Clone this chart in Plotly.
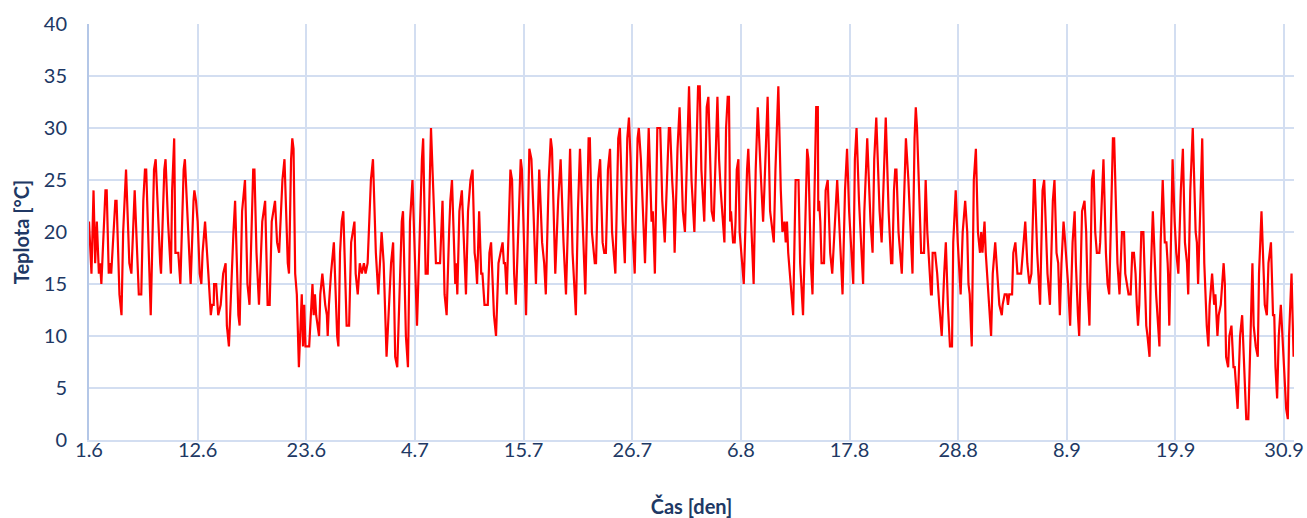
import plotly.graph_objects as go

# time since 1 June 00:00 in hours, temperature in °C
hours = [
0,3,6,11,15,19,24,27,30,40,43,48,51,54,59,64,67,74,79,83,90,98,103,111,121,127,132,136,139,150,158,162,173,175,183,186,192,199,202,207,210,217,222,230,233,243,247,254,256,260,264,269,273,276,282,
290,296,299,303,304,309,314,320,326,332,335,340,351,355,363,366,372,376,379,385,390,399,402,407,413,421,428,434,439,444,448,452,457,462,470,475,483,486,491,494,497,501,505,510,517,520,523,526,535,539,543,546,549,552,559,562,567,
574,578,580,583,588,595,603,606,610,614,618,626,632,637,645,648,653,658,663,668,672,677,685,690,697,703,711,716,723,734,739,744,749,760,763,770,775,780,786,797,809,812,818,823,831,840,843,853,859,864,869,
875,878,882,888,890,892,895,900,906,913,916,921,924,927,932,937,940,943,948,953,956,961,969,973,977,984,989,995,1000,1005,1008,1011,1015,1021,1024,1028,1033,1037,1049,1052,1060,1062,1070,1075,1080,1086,1094,1101,1106,1110,1117,1122,1125,1132,1133,1140,1146,1153,1159,1169,
1175,1183,1188,1193,1201,1206,1214,1217,1222,1229,1232,1237,1242,1248,1252,1256,1261,1266,1271,1279,1286,1290,1297,1302,1308,1312,1316,1321,1326,1333,1336,1341,1346,1351,1360,1367,1370,1375,1381,1388,1393,1399,1409,1412,1417,1420,1423,1430,1435,1443,1448,1458,
1464,1471,1480,1484,1488,1495,1501,1505,1513,1518,1527,1531,1535,1544,1548,1552,1555,1558,1560,1565,1569,1571,1574,1578,1581,1586,1591,1599,1602,1608,1612,1615,1620,1625,1633,1638,1641,1649,1655,1660,1664,1668,1675,1681,1685,1690,1693,1696,1699,1707,1711,1717,1724,1728,1732,1735,1745,
1748,1754,1758,1767,1771,1772,1774,1777,1780,1786,1790,1795,1801,1806,1813,1818,1824,1831,1837,1842,1847,1850,1857,1861,1865,1871,1881,1884,1891,1899,1904,1908,1913,1921,1926,1936,1943,1949,1952,1956,1959,1962,1967,1975,1983,1985,1991,1996,2001,2006,2009,2012,2019,2022,2029,2033,
2037,2042,2046,2048,2050,2056,2061,2066,2072,2078,2082,2087,2092,2097,2100,2106,2111,2118,2123,2129,2134,2137,2140,2145,2150,2155,2160,2165,2168,2171,2176,2179,2186,2192,2196,2202,2207,2212,2218,2220,2225,2230,2233,2236,2243,2246,2251,2256,2265,2270,2275,2280,2285,2290,2296,2298,2304,2311,2317,2321,2329,2335,
2342,2346,2351,2355,2359,2363,2368,2372,2376,2379,2384,2390,2395,2398,2403,2406,2413,2419,2423,2426,2431,2437,2441,2445,2449,2455,2457,2465,2471,2475,2479,2488,2491,2496,2499,2504,2510,2515,2518,2522,2526,2531,2535,2539,2543,2546,2549,2552,2557,2562,2565,2569,2572,2577,2580,2585,2593,2598,2601,2604,2609,2614,2618,2621,2622,2625,2629,
2633,2638,2642,2647,2653,2658,2663,2668,2671,2676,2682,2689,2692,2695,2702,2705,2710,2713,2715,2716,2720,2723,2729,2734,2737,2742,2745,2750,2757,2760,2763,2768,2771,2776,2781,2784,2791,2797,2802,2807,2809,2812,2817,2823,2827,2830,2835,2840,2843,2849,2854,2857,2862,2866,2872,2877,2880,2883,2887,2891,2896,2903,2906,2909,2913,2916,2922,2927,
]
temps = [
21,19,16,24,17,21,16,17,15,24,24,16,17,16,20,23,23,14,12,20,26,17,16,24,14,14,23,26,26,12,26,27,17,16,26,27,21,16,24,29,18,18,15,26,27,18,15,23,24,23,21,16,15,18,21,
16,12,13,13,15,15,12,13,16,17,11,9,20,23,12,11,22,24,25,15,13,26,26,18,13,21,23,13,13,21,22,23,19,18,25,27,17,16,27,29,28,16,14,7,14,9,13,9,9,12,15,12,14,12,10,14,16,
13,12,10,13,16,19,10,9,18,21,22,11,11,19,21,16,14,17,16,17,16,17,25,27,18,14,20,17,8,17,19,8,7,21,22,10,7,21,25,11,27,29,16,16,30,20,17,17,23,14,12,
20,23,25,17,15,17,14,22,24,17,14,22,24,25,26,18,17,15,22,16,16,13,13,18,19,12,10,17,18,19,17,17,14,24,26,25,16,13,27,26,14,12,28,27,22,15,26,19,17,14,25,29,28,17,16,23,27,19,14,28,
18,12,22,28,18,14,29,29,20,17,17,25,27,19,18,18,26,28,20,16,29,30,21,17,29,31,27,20,16,29,30,27,22,17,30,21,22,16,30,30,23,19,30,30,25,23,18,28,32,22,20,34,
25,20,34,34,26,21,32,33,22,21,33,27,24,19,30,33,33,21,22,19,19,21,26,27,20,17,15,26,28,22,18,15,26,32,25,21,24,33,22,20,19,26,34,24,20,21,19,21,18,14,12,25,25,17,14,12,28,
27,17,14,32,32,22,23,21,17,17,24,25,18,16,22,25,20,14,24,28,22,20,15,27,30,23,15,22,29,21,18,27,31,22,19,31,22,17,17,24,26,26,20,16,28,29,25,20,16,29,32,30,21,18,18,25,
20,16,14,14,18,18,16,13,10,16,19,13,9,9,19,24,19,14,20,23,20,15,14,9,25,28,20,18,20,18,21,18,13,10,16,19,16,13,12,13,14,14,13,14,14,18,19,16,16,19,21,17,15,16,25,25,18,13,24,25,16,13,
23,25,18,17,12,17,21,19,17,15,11,19,22,17,12,10,22,23,20,15,11,25,26,20,18,18,19,27,18,15,14,29,29,21,17,14,20,20,16,15,14,14,18,18,16,13,11,13,20,20,15,11,10,8,16,22,14,10,9,19,25,19,19,17,16,11,21,
27,21,18,16,24,28,19,17,14,24,30,20,19,15,24,29,17,14,13,11,9,13,16,13,14,10,12,13,17,15,8,7,10,11,7,7,3,10,12,7,4,2,2,12,17,11,9,8,16,22,16,13,12,17,19,12,12,7,4,10,13,8,6,3,2,10,16,8,
]

tick_hours = [0, 264, 528, 792, 1056, 1320, 1584, 1848, 2112, 2376, 2640, 2904]
tick_labels = ["1.6", "12.6", "23.6", "4.7", "15.7", "26.7", "6.8", "17.8", "28.8", "8.9", "19.9", "30.9"]
y_ticks = [0, 5, 10, 15, 20, 25, 30, 35, 40]

text_color = "#203864"
grid_color = "#D3DEF1"
font_family = "Lato, Carlito, Calibri, sans-serif"

fig = go.Figure()
fig.add_trace(go.Scatter(x=hours, y=temps, mode="lines",
                         line=dict(color="#FF0000", width=2.2), showlegend=False))

fig.update_layout(
    width=1307, height=518,
    margin=dict(l=89, r=13, t=24, b=78),
    paper_bgcolor="white", plot_bgcolor="white",
    font=dict(family=font_family, size=20, color=text_color),
)
fig.update_xaxes(
    range=[0, 2928], tickmode="array", tickvals=tick_hours, ticktext=tick_labels,
    showgrid=True, gridcolor=grid_color, gridwidth=1.6, automargin=False,
    showline=True, linecolor=grid_color, linewidth=1.6, zeroline=False,
    tickfont=dict(size=20, color=text_color), ticklabelstandoff=-9,
    title=dict(text="<b>Čas [den]</b>", font=dict(size=20, color=text_color), standoff=42),
)
fig.update_yaxes(
    range=[0, 40], tickmode="array", tickvals=y_ticks,
    showgrid=True, gridcolor=grid_color, gridwidth=1.6, automargin=False,
    showline=True, linecolor="#B4C7E7", linewidth=2, zeroline=False,
    tickfont=dict(size=20, color=text_color), ticklabelstandoff=16,
    title=dict(text="<b>Teplota [°C]</b>", font=dict(size=20, color=text_color), standoff=9),
)

fig.write_html("out.html")
